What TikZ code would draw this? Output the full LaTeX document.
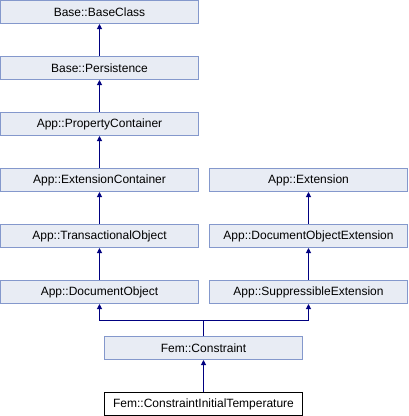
\documentclass[tikz,border=0pt]{standalone}
\usepackage{fontspec}
\setmainfont{Liberation Sans}
\usetikzlibrary{arrows.meta}

\definecolor{boxfill}{HTML}{E8ECF4}
\definecolor{boxline}{HTML}{8498CC}
\definecolor{linkblue}{HTML}{000080}

\begin{document}
\begin{tikzpicture}[
    x=1pt, y=-1pt,
    >={Triangle[length=5pt, width=5pt]},
    cls/.style={draw=boxline, fill=boxfill, line width=1pt,
        minimum width=198pt, minimum height=23pt, inner sep=0pt,
        font=\fontsize{12}{14}\selectfont},
    leaf/.style={cls, draw=black, fill=white},
    inherit/.style={<-, linkblue, line width=1pt}
]

% Column centres (x) and row pitch
\def\leftX{99.5}
\def\rightX{308.5}
\def\midX{203.5}

% --- Canvas ---
\useasboundingbox (0,0) rectangle (408,416);

% --- Left column ---
\node[cls] (baseclass) at (\leftX,12) {Base::BaseClass};
\node[cls] (persist) at (\leftX,68) {Base::Persistence};
\node[cls] (propcont) at (\leftX,124) {App::PropertyContainer};
\node[cls] (extcont) at (\leftX,180) {App::ExtensionContainer};
\node[cls] (transobj) at (\leftX,236) {App::TransactionalObject};
\node[cls] (docobj) at (\leftX,292) {App::DocumentObject};

% --- Right column ---
\node[cls] (ext) at (\rightX,180) {App::Extension};
\node[cls] (docobjext) at (\rightX,236) {App::DocumentObjectExtension};
\node[cls] (suppext) at (\rightX,292) {App::SuppressibleExtension};

% --- Bottom ---
\node[cls] (constraint) at (\midX,348) {Fem::Constraint};
\node[leaf] (inittemp) at (\midX,404) {Fem::ConstraintInitialTemperature};

% --- Inheritance links ---
\draw[inherit] (baseclass.south) -- (persist.north);
\draw[inherit] (persist.south) -- (propcont.north);
\draw[inherit] (propcont.south) -- (extcont.north);
\draw[inherit] (extcont.south) -- (transobj.north);
\draw[inherit] (transobj.south) -- (docobj.north);
\draw[inherit] (ext.south) -- (docobjext.north);
\draw[inherit] (docobjext.south) -- (suppext.north);

% two parents meet above Fem::Constraint
\coordinate (fork) at (\midX,320.5);
\draw[inherit] (docobj.south) |- (fork);
\draw[inherit] (suppext.south) |- (fork);
\draw[linkblue, line width=1pt] (fork) -- (constraint.north);

\draw[inherit] (constraint.south) -- (inittemp.north);

\end{tikzpicture}
\end{document}
